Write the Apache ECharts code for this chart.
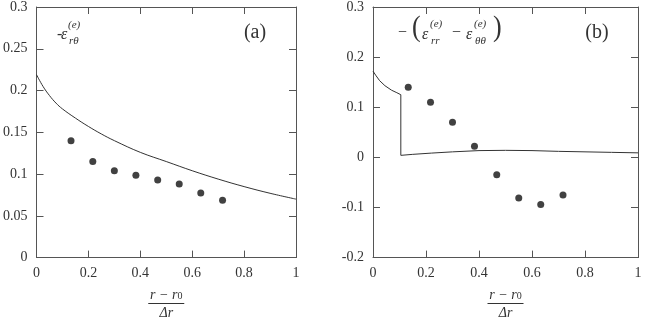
<!DOCTYPE html>
<html>
<head>
<meta charset="utf-8">
<script src="https://cdn.jsdelivr.net/npm/echarts@6/dist/echarts.min.js"></script>
<style>
  html, body { margin: 0; background: #fff; }
  #chart { width: 649px; height: 325px; }
</style>
</head>
<body>
<div id="chart"></div>
<script>
// panel (a): -eps_rtheta
const curveAx = [0, 0.025, 0.05, 0.075, 0.1, 0.15, 0.2, 0.25, 0.3, 0.4, 0.5, 0.6, 0.7, 0.8, 0.9, 1.0]
const curveAy = [0.219, 0.205, 0.194, 0.185, 0.178, 0.167, 0.157, 0.148, 0.140, 0.126, 0.115, 0.104, 0.094, 0.085, 0.077, 0.070]
const dotsAx = [0.133, 0.217, 0.3, 0.383, 0.467, 0.55, 0.633, 0.717]
const dotsAy = [0.140, 0.115, 0.104, 0.0985, 0.0928, 0.088, 0.0774, 0.0687]

// panel (b): -(eps_rr - eps_thetatheta)
const curveBx = [0, 0.01, 0.025, 0.045, 0.07, 0.09, 0.105, 0.105, 0.15, 0.22, 0.3, 0.4, 0.5, 0.6, 0.7, 0.8, 0.9, 1.0]
const curveBy = [0.172, 0.164, 0.153, 0.143, 0.134, 0.129, 0.125, 0.004, 0.006, 0.0085, 0.011, 0.0135, 0.014, 0.0135, 0.012, 0.011, 0.010, 0.009]
const dotsBx = [0.133, 0.217, 0.3, 0.383, 0.467, 0.55, 0.633, 0.717]
const dotsBy = [0.140, 0.110, 0.070, 0.022, -0.0346, -0.081, -0.094, -0.075]

const xRange = { min: 0, max: 1, step: 0.2 }
const yRangeA = { min: 0, max: 0.3, step: 0.05 }
const yRangeB = { min: -0.2, max: 0.3, step: 0.1 }

const serif = '"Liberation Serif", "Times New Roman", serif'
const ink = '#333'
const frame = '#555'

const pairs = (xs, ys) => xs.map((x, i) => [x, ys[i]])

function xAxes(gridIndex) {
  const base = {
    gridIndex, type: 'value', min: xRange.min, max: xRange.max, interval: xRange.step,
    axisLine: { show: true, onZero: false, lineStyle: { color: frame, width: 1 } },
    axisTick: { show: true, inside: true, length: 7, lineStyle: { color: frame } },
    splitLine: { show: false },
  }
  return [
    {
      ...base, position: 'bottom',
      axisLabel: { color: ink, fontFamily: serif, fontSize: 14, margin: 9 },
      name: '{num|r − r}{sub|0}\n{bar| }\n{den|Δr}',
      nameLocation: 'middle',
      nameGap: 27,
      nameTextStyle: {
        color: ink,
        rich: {
          num: { fontFamily: serif, fontStyle: 'italic', fontSize: 14, color: ink, lineHeight: 13 },
          sub: { fontFamily: serif, fontSize: 10, color: ink, verticalAlign: 'bottom', lineHeight: 13, padding: [6, 0, 0, 0] },
          bar: { width: 36, height: 1, backgroundColor: ink, fontSize: 1, lineHeight: 4 },
          den: { fontFamily: serif, fontStyle: 'italic', fontSize: 14, color: ink, lineHeight: 15 },
        },
      },
    },
    { ...base, position: 'top', axisLabel: { show: false } },
  ]
}

function yAxes(gridIndex, r) {
  const base = {
    gridIndex, type: 'value', min: r.min, max: r.max, interval: r.step,
    axisLine: { show: true, onZero: false, lineStyle: { color: frame, width: 1 } },
    axisTick: { show: true, inside: true, length: 7, lineStyle: { color: frame } },
    splitLine: { show: false },
  }
  return [
    { ...base, position: 'left', axisLabel: { color: ink, fontFamily: serif, fontSize: 14, margin: 9 } },
    { ...base, position: 'right', axisLabel: { show: false } },
  ]
}

function txt(x, y, text, size, italic, align) {
  return {
    type: 'text', x, y, silent: true,
    style: {
      text, fill: ink, fontFamily: serif, fontSize: size,
      fontStyle: italic ? 'italic' : 'normal',
      align: align || 'left', verticalAlign: 'middle',
    },
  }
}

const chart = echarts.init(document.getElementById('chart'))
chart.setOption({
  animation: false,
  grid: [
    { left: 31, right: 353, top: 5, bottom: 55 },
    { left: 373, right: 11, top: 5, bottom: 55 },
  ],
  xAxis: [...xAxes(0), ...xAxes(1)],
  yAxis: [...yAxes(0, yRangeA), ...yAxes(1, yRangeB)],
  series: [
    {
      type: 'line', xAxisIndex: 0, yAxisIndex: 0, data: pairs(curveAx, curveAy),
      smooth: 0.4, showSymbol: false, lineStyle: { color: ink, width: 1 },
    },
    {
      type: 'scatter', xAxisIndex: 0, yAxisIndex: 0, data: pairs(dotsAx, dotsAy),
      symbolSize: 7, itemStyle: { color: '#111' },
    },
    {
      type: 'line', xAxisIndex: 2, yAxisIndex: 2, data: pairs(curveBx, curveBy),
      smooth: false, showSymbol: false, lineStyle: { color: ink, width: 1 },
    },
    {
      type: 'scatter', xAxisIndex: 2, yAxisIndex: 2, data: pairs(dotsBx, dotsBy),
      symbolSize: 7, itemStyle: { color: '#111' },
    },
  ],
  graphic: [
    // panel (a) labels
    txt(57, 35, '-', 16, false),
    txt(61, 35, 'ε', 16, true),
    txt(68, 25, '(e)', 11, true),
    txt(69, 41, 'rθ', 11, true),
    txt(255, 33, '(a)', 20, false, 'center'),
    // panel (b) labels
    txt(398, 33, '−', 16, false),
    { ...txt(412, 33, '(', 26, false), scaleY: 1.15, originY: 33 },
    txt(422, 35, 'ε', 16, true),
    txt(430, 24, '(e)', 11, true),
    txt(431, 41, 'rr', 11, true),
    txt(452, 33, '−', 16, false),
    txt(466, 35, 'ε', 16, true),
    txt(474, 24, '(e)', 11, true),
    txt(475, 41, 'θθ', 11, true),
    { ...txt(493, 33, ')', 26, false), scaleY: 1.15, originY: 33 },
    txt(597, 33, '(b)', 20, false, 'center'),
  ],
})
</script>
</body>
</html>
